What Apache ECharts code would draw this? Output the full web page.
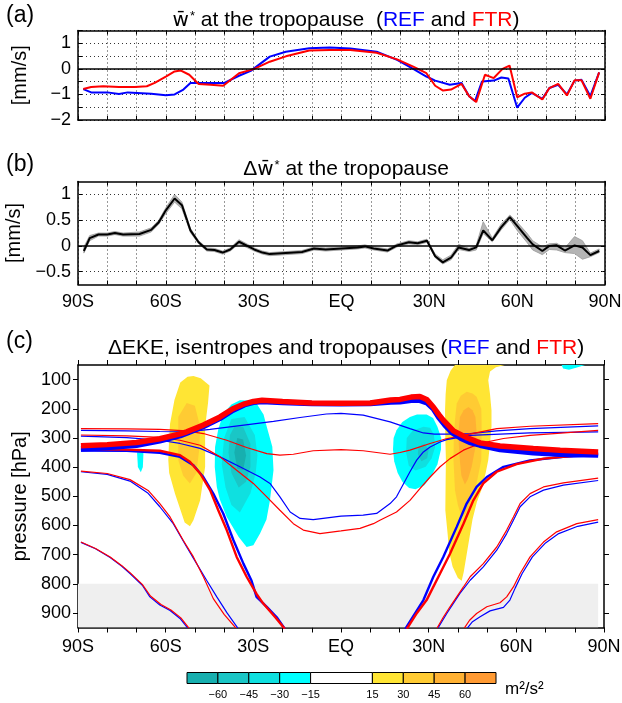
<!DOCTYPE html>
<html>
<head>
<meta charset="utf-8">
<title>w* at the tropopause and EKE</title>
<script src="https://cdn.jsdelivr.net/npm/echarts@6.0.0/dist/echarts.min.js"></script>
<style>
html, body { margin: 0; padding: 0; background: #fff; }
#chart { width: 622px; height: 703px; }
</style>
</head>
<body>
<div id="chart"></div>
<script>
// (a) residual vertical velocity at the tropopause [mm/s]
var latRef = [-88.2, -85.5, -80, -76, -73, -65, -60, -57, -54, -51.6, -46, -40, -35, -31, -24.5, -19, -11, -4, 3, 12, 19, 24.5, 29, 32, 37, 41, 43.6, 45.6, 48, 52, 54.6, 57, 60, 62.6, 65, 68.6, 71, 74, 77, 79.6, 82, 85, 88];
var wRef = [-0.79, -0.92, -0.92, -0.98, -0.92, -0.97, -1.03, -1.0, -0.81, -0.55, -0.55, -0.55, -0.27, -0.08, 0.48, 0.67, 0.81, 0.84, 0.8, 0.67, 0.35, 0, -0.3, -0.46, -0.62, -0.55, -1.07, -1.26, -0.49, -0.46, -0.34, -0.38, -1.52, -1.13, -0.94, -1.17, -0.75, -0.62, -1.0, -0.46, -0.43, -1.07, -0.14];
var latFtr = [-88.2, -85.5, -81.4, -76, -70.6, -66.5, -63.8, -60, -57, -55, -52, -48.8, -44.7, -40.4, -35, -29.8, -24.5, -19, -11, -4, 3, 12, 19, 24.5, 29, 32, 34.7, 37.4, 41, 43.6, 46, 49, 52, 55, 57.4, 60, 62.6, 65, 68.6, 71, 74, 77, 79.6, 82, 85, 88];
var wFtr = [-0.79, -0.71, -0.68, -0.71, -0.71, -0.68, -0.55, -0.3, -0.1, -0.06, -0.23, -0.59, -0.62, -0.66, -0.17, 0, 0.28, 0.49, 0.72, 0.74, 0.74, 0.63, 0.37, 0.09, -0.17, -0.66, -0.85, -0.81, -0.59, -1.07, -1.3, -0.23, -0.36, 0, 0.13, -1.11, -0.97, -0.92, -1.2, -0.75, -0.59, -1.04, -0.45, -0.45, -1.17, -0.14];

// (b) difference FTR - REF with its spread
var latDiff = [-88, -86, -83, -80, -77.4, -74.6, -69, -65, -62.4, -60, -57, -54.5, -51.6, -48.8, -46, -43.4, -40.6, -38, -35, -29.8, -27, -24.5, -19, -13.5, -9.4, -5.4, 0, 5.5, 8, 11, 15.7, 19, 23, 26, 29.2, 32, 34.6, 37.4, 40, 43.6, 46, 48.4, 51.5, 54.5, 57.5, 60, 63.3, 65.3, 68.6, 71, 73.5, 76.3, 79.6, 82.3, 85, 88];
var dW = [-0.1, 0.15, 0.22, 0.22, 0.25, 0.22, 0.23, 0.31, 0.46, 0.69, 0.92, 0.79, 0.3, 0.07, -0.07, -0.08, -0.13, -0.07, 0.08, -0.07, -0.13, -0.16, -0.14, -0.12, -0.05, -0.07, -0.05, -0.03, -0.01, -0.05, -0.09, 0.01, 0.07, 0.05, 0.1, -0.2, -0.32, -0.23, -0.03, -0.08, -0.03, 0.3, 0.11, 0.36, 0.56, 0.39, 0.16, 0.03, -0.1, 0, 0.01, -0.09, 0.01, -0.03, -0.18, -0.1];
var dWhi = [-0.02, 0.2, 0.25, 0.25, 0.28, 0.25, 0.27, 0.35, 0.5, 0.74, 1.0, 0.85, 0.34, 0.1, -0.04, -0.05, -0.1, -0.04, 0.12, -0.04, -0.1, -0.13, -0.11, -0.09, -0.02, -0.04, -0.02, 0.0, 0.02, -0.02, -0.06, 0.04, 0.1, 0.08, 0.13, -0.16, -0.27, -0.18, 0.03, -0.05, 0.01, 0.47, 0.15, 0.42, 0.6, 0.46, 0.25, 0.1, -0.02, 0.04, 0.05, -0.04, 0.18, 0.1, -0.14, -0.06];
var dWlo = [-0.14, 0.1, 0.19, 0.19, 0.22, 0.19, 0.19, 0.27, 0.42, 0.63, 0.85, 0.72, 0.26, 0.04, -0.1, -0.11, -0.16, -0.1, 0.04, -0.1, -0.16, -0.19, -0.17, -0.15, -0.08, -0.1, -0.08, -0.06, -0.04, -0.08, -0.12, -0.02, 0.04, 0.02, 0.07, -0.23, -0.35, -0.27, -0.07, -0.11, -0.08, 0.24, 0.08, 0.31, 0.51, 0.3, 0.07, -0.08, -0.17, -0.07, -0.08, -0.13, -0.15, -0.26, -0.21, -0.13];

// (c) tropopauses [lat, hPa]
var tropRef = [[-89, 338], [-80, 333], [-70, 325], [-62, 310], [-55, 292], [-52.8, 284], [-47.1, 261], [-41.4, 233], [-37, 205], [-33, 186], [-30, 178], [-27, 175], [-20, 179], [-10, 182], [0, 183], [10, 182], [17, 177], [20.2, 176], [24, 171], [27, 171], [29.5, 180], [31.6, 200], [33.5, 230], [35.5, 255], [38, 282], [41, 301], [44, 315], [47.6, 325], [54.4, 340], [65.8, 351], [75, 356], [88, 359]];
var tropFtr = [[-89, 327], [-80, 323], [-70, 316], [-62, 303], [-55, 286], [-52.8, 279], [-47.1, 256], [-41.4, 228], [-37, 200], [-33, 183], [-30, 175], [-27, 171], [-20, 175], [-10, 180], [0, 181], [10, 180], [17, 170], [20.2, 168], [24, 160], [27, 158], [29.3, 168], [31.6, 194], [33.5, 220], [35, 239], [38.5, 276], [43, 299], [47.6, 317], [54.4, 328], [65.8, 336], [75, 342], [88, 348]];

// (c) isentropes [lat, hPa]
var upperRef = [[-89, 274], [-73.3, 276], [-62, 278], [-52.8, 279], [-44.8, 271], [-34.6, 258], [-23.1, 243], [-14, 230], [-5, 218], [0, 216], [7.6, 222], [16.8, 245], [23.6, 268], [28.2, 283], [32, 287], [36.2, 287], [44.2, 285], [53.3, 276], [64.7, 268], [88, 259]];
var upperFtr = [[-89, 268], [-73.3, 269], [-62, 271], [-52.8, 276], [-47.1, 285], [-39.1, 308], [-32.3, 333], [-25.4, 354], [-20.9, 359], [-16.3, 356], [-9.5, 344], [0, 340], [7.6, 344], [16.8, 356], [20.2, 350], [23.6, 342], [30.5, 319], [36, 303], [41.9, 291], [53.3, 268], [64.7, 260], [88, 251]];
var bowlRef = [[-89, 294], [-73.3, 299], [-62, 308], [-55.1, 319], [-48.2, 336], [-41.4, 365], [-34.6, 399], [-27.7, 434], [-24.3, 456], [-20.9, 502], [-17.4, 554], [-14, 576], [-9.5, 580], [0, 568], [7.6, 565], [12.2, 559], [16.8, 525], [19, 502], [20.8, 468], [23.6, 416], [25.9, 376], [28.2, 348], [30.5, 331], [33.9, 314], [36.2, 306], [44.2, 291], [64.7, 283], [88, 279]];
var bowlFtr = [[-89, 290], [-73.3, 293], [-62, 298], [-55.1, 308], [-48.2, 325], [-41.4, 365], [-35.7, 411], [-30, 456], [-25.4, 502], [-20.9, 548], [-16.3, 594], [-12.9, 616], [-7.2, 628], [0, 619], [6.5, 610], [11.1, 594], [13.3, 582], [19, 554], [23.6, 514], [27, 474], [30.5, 434], [33.9, 399], [37.3, 371], [41.9, 342], [47.6, 319], [55.6, 302], [64.7, 291], [88, 274]];
var steepSRef = [[-89, 343], [-73.3, 344], [-62, 351], [-55.1, 365], [-50.5, 394], [-47.1, 434], [-43.7, 491], [-40.3, 559], [-36.8, 651], [-33.4, 731], [-30.6, 790], [-28.9, 845], [-25.4, 879], [-22, 915], [-19.2, 955]];
var steepSFtr = [[-89, 338], [-73.3, 340], [-62, 344], [-55.1, 359], [-51.7, 382], [-48.2, 422], [-44.8, 479], [-42, 548], [-39.1, 616], [-35.7, 708], [-32.3, 776], [-28.9, 835], [-26.6, 868], [-22.5, 915], [-19.2, 955]];
var steepNRef = [[22, 955], [28.2, 856], [31.6, 776], [35, 708], [39.6, 605], [43, 525], [46.4, 468], [49.9, 434], [55.6, 399], [64.7, 377], [76.1, 365], [88, 359]];
var steepNFtr = [[22.5, 955], [26, 900], [29.3, 856], [33.9, 765], [37.3, 697], [41.9, 594], [45.3, 514], [48.7, 456], [53.3, 416], [60.1, 390], [69.3, 371], [88, 354]];
var midSRef = [[-89, 416], [-80, 425], [-72.2, 448], [-66, 490], [-62, 536], [-57.4, 594], [-52.8, 674], [-49.4, 731], [-46, 788], [-42.5, 845], [-39, 900], [-35.1, 955]];
var midSFtr = [[-89, 414], [-80, 422], [-72.2, 443], [-66, 480], [-62, 525], [-58.5, 571], [-54, 651], [-50.5, 708], [-47.1, 776], [-43.7, 851], [-40, 905], [-35.7, 955]];
var midNRef = [[33, 955], [36.2, 902], [40.7, 833], [44.2, 788], [48.7, 742], [53.3, 685], [56.7, 628], [59, 582], [61.3, 536], [64.7, 502], [69.3, 479], [76.1, 462], [88, 446]];
var midNFtr = [[32.7, 955], [35, 915], [37.3, 879], [41.9, 811], [44.2, 776], [48.7, 731], [53.3, 674], [56.7, 616], [59, 571], [61.3, 525], [64.7, 491], [69.3, 468], [76.1, 454], [88, 438]];
var lowSRef = [[-89, 658], [-84, 680], [-79, 710], [-75, 740], [-72.2, 765], [-68, 805], [-65.4, 845], [-62, 873], [-58.5, 892], [-55.1, 919], [-52.2, 955]];
var lowSFtr = [[-89, 657], [-84, 679], [-79, 708], [-75, 738], [-72.2, 762], [-68, 802], [-65.2, 842], [-61.6, 871], [-58.2, 890], [-54.8, 917], [-51.8, 955]];
var lowNRef = [[43, 955], [45, 930], [47.6, 913], [51, 893], [55.6, 881], [57.8, 856], [59.6, 815], [62, 765], [65.5, 708], [70, 660], [74.5, 628], [81, 603], [88, 589]];
var lowNFtr = [[42, 955], [44, 925], [46.4, 902], [49.9, 879], [54.4, 865], [56.7, 845], [59, 811], [61.3, 765], [64.7, 708], [69.3, 657], [73.8, 622], [80.7, 594], [88, 580]];

// (c) Delta EKE filled contours, outlines as [lat, hPa]
var ekeSH15 = [[-50.5, 88], [-48, 95], [-45, 120], [-45.5, 180], [-46.5, 262], [-46.5, 400], [-48.2, 514], [-50.5, 582], [-51.7, 603], [-53.5, 590], [-56.8, 491], [-58.8, 420], [-59.1, 376], [-58.8, 300], [-58.5, 251], [-57, 170], [-55, 110], [-52.5, 90]];
var ekeSH30 = [[-52.8, 180], [-50, 190], [-48.2, 262], [-48.5, 340], [-49.5, 420], [-51.7, 456], [-54, 430], [-55.7, 376], [-55.7, 300], [-55.7, 228]];
var ekeSHm15 = [[-34.6, 171], [-31, 172], [-28.9, 182], [-26.5, 220], [-25.4, 262], [-23.5, 330], [-23.1, 411], [-24.3, 514], [-25.5, 580], [-27.7, 628], [-30, 668], [-32.3, 674], [-35, 640], [-39.1, 571], [-41.5, 510], [-42.5, 468], [-43.2, 400], [-43.1, 331], [-42, 270], [-40.3, 217], [-37.5, 185]];
var ekeSHm30 = [[-37.5, 235], [-33, 228], [-29.5, 290], [-28.6, 360], [-29.2, 420], [-31, 490], [-34.6, 556], [-37.5, 530], [-39.5, 470], [-40.8, 390], [-40, 300]];
var ekeSHm45 = [[-36.5, 262], [-33.5, 262], [-31, 320], [-31, 400], [-32.5, 450], [-35, 470], [-37.5, 420], [-38.5, 350], [-38, 290]];
var ekeSHm60 = [[-35.5, 300], [-33.5, 305], [-32.5, 360], [-33.5, 410], [-35.5, 405], [-36.5, 350]];
var ekeSHdrip = [[-69.8, 350], [-67.6, 350], [-67.8, 400], [-68.5, 418], [-69.5, 400]];
var ekeNH15 = [[36.2, 102], [37.5, 70], [39, 50], [56, 50], [53, 58], [51, 72], [50.4, 102], [51, 150], [51.5, 205], [51.5, 262], [51, 319], [50.4, 376], [49.5, 420], [48, 479], [46.5, 520], [45, 580], [44, 640], [43, 700], [42, 760], [41.3, 790], [40, 780], [38.2, 742], [37, 690], [36.5, 630], [35.7, 548], [35.8, 450], [35.9, 376], [35.7, 300], [35.6, 205], [35.8, 150]];
var ekeNH30 = [[39.6, 182], [41, 155], [43, 142], [45, 148], [46.4, 159], [48, 200], [48.1, 239], [48.1, 300], [48, 376], [46.4, 456], [44.5, 520], [42.5, 560], [41.3, 571], [40, 530], [39, 479], [38.5, 376], [38.6, 300], [39, 239]];
var ekeNH45 = [[40.7, 228], [42, 205], [43.6, 194], [45, 205], [46, 228], [46.4, 280], [46, 331], [44.7, 400], [43.5, 440], [42.4, 460], [41.2, 430], [40.7, 380], [40.3, 320], [40.3, 270]];
var ekeNHm15 = [[18, 300], [19, 274], [21, 245], [23.6, 228], [26, 220], [29.3, 220], [31.5, 232], [33, 262], [34.3, 300], [34.2, 340], [33, 390], [31, 430], [28.5, 462], [25.5, 476], [23.3, 472], [21, 450], [19.4, 420], [18.2, 380], [17.8, 340]];
var ekeNHm30 = [[22.5, 300], [24.5, 275], [28.2, 262], [30.5, 265], [31.8, 290], [32.2, 331], [31, 370], [29, 399], [25.5, 412], [23.2, 395], [22.3, 350]];
var ekeNHm45 = [[26.5, 330], [28.5, 320], [30, 340], [29.5, 370], [27.5, 380], [26.3, 355]];
var ekeArcticm15 = [[75.5, 50], [83.5, 50], [81, 58], [78, 66], [76, 62]];
var belowBox = [-90, 88, 800, 950];

// colour bar
var cbEdges = [-75, -60, -45, -30, -15, 15, 30, 45, 60, 75];
var cbColors = ['#17afaf', '#1ac6c6', '#0fe0e0', '#00ffff', '#ffffff', '#ffe534', '#ffcb33', '#ffb133', '#ff9a33'];

var ekeContours = [
  [15, ekeSH15], [30, ekeSH30], [-15, ekeSHm15], [-30, ekeSHm30], [-45, ekeSHm45], [-60, ekeSHm60], [-15, ekeSHdrip],
  [15, ekeNH15], [30, ekeNH30], [45, ekeNH45], [-15, ekeNHm15], [-30, ekeNHm30], [-45, ekeNHm45], [-15, ekeArcticm15]
];

var FONT = '"Liberation Sans", Arial, Helvetica, sans-serif';
var BLUE = '#0000ff', RED = '#ff0000';

function pairs(xs, ys) { return xs.map(function (x, i) { return [x, ys[i]]; }); }
function minus(v) { return String(v).replace('-', '\u2212'); }
function latLabel(v) {
  if (v % 30 !== 0) return '';
  if (v === 0) return 'EQ';
  return v < 0 ? (-v) + 'S' : v + 'N';
}
function levelColor(lv) {
  for (var i = 0; i < cbEdges.length - 1; i++) {
    if ((lv > 0 && cbEdges[i] === lv) || (lv < 0 && cbEdges[i + 1] === lv)) return cbColors[i];
  }
  return '#fff';
}
function polySeries(pts, fill, gi, z) {
  return {
    type: 'custom', xAxisIndex: gi, yAxisIndex: gi, z: z, silent: true, clip: true,
    data: [pts[0]],
    renderItem: function (params, api) {
      return { type: 'polygon', shape: { points: pts.map(function (p) { return api.coord(p); }) }, style: { fill: fill } };
    }
  };
}
function lineSeries(data, color, width, gi, z) {
  return { type: 'line', xAxisIndex: gi, yAxisIndex: gi, data: data, showSymbol: false, symbol: 'none', z: z,
    lineStyle: { color: color, width: width }, silent: true, animation: false };
}

var tickFont = { fontFamily: FONT, fontSize: 18, color: '#000' };
var frame = { show: true, onZero: false, lineStyle: { color: '#000', width: 1.5 } };
var dotted = { show: true, lineStyle: { color: '#333', width: 1, type: [1, 3] } };

function latAxis(gi, pos, labels, inside, grid) {
  return {
    type: 'value', gridIndex: gi, position: pos, min: -90, max: 90, interval: 10,
    axisLine: frame,
    axisTick: { show: true, inside: inside, length: inside ? 4 : 5, lineStyle: { color: '#000', width: 1 } },
    axisLabel: labels ? Object.assign({ show: true, margin: labels, formatter: latLabel, showMinLabel: true, showMaxLabel: true }, tickFont) : { show: false },
    splitLine: grid ? dotted : { show: false }
  };
}

var chart = echarts.init(document.getElementById('chart'), null, { renderer: 'canvas' });

var series = [];
// (a)
series.push(Object.assign(lineSeries(pairs(latRef, wRef), BLUE, 2, 0, 3), {
  markLine: { silent: true, symbol: 'none', label: { show: false }, animation: false,
    lineStyle: { color: '#000', width: 1.5, type: 'solid' }, data: [{ yAxis: 0 }] }
}));
series.push(lineSeries(pairs(latFtr, wFtr), RED, 2, 0, 4));
// (b)
var band = latDiff.map(function (x, i) { return [x, dWhi[i]]; })
  .concat(latDiff.map(function (x, i) { return [x, dWlo[i]]; }).reverse());
series.push({
  type: 'custom', xAxisIndex: 1, yAxisIndex: 1, z: 2, silent: true, data: [band[0]],
  renderItem: function (params, api) {
    return { type: 'polygon', shape: { points: band.map(function (p) { return api.coord(p); }) },
      style: { fill: '#b4b4b4', stroke: '#999', lineWidth: 0.8 } };
  }
});
series.push(Object.assign(lineSeries(pairs(latDiff, dW), '#000', 2, 1, 4), {
  markLine: { silent: true, symbol: 'none', label: { show: false }, animation: false,
    data: [
      { yAxis: 1, lineStyle: { color: '#333', width: 1, type: [1, 3] } },
      { yAxis: 0.5, lineStyle: { color: '#333', width: 1, type: [1, 3] } },
      { yAxis: -0.5, lineStyle: { color: '#333', width: 1, type: [1, 3] } },
      { yAxis: 0, lineStyle: { color: '#000', width: 1.5, type: 'solid' } }
    ] }
}));
// (c) fills
ekeContours.forEach(function (c) { series.push(polySeries(c[1], levelColor(c[0]), 2, 1)); });
series.push(polySeries([[belowBox[0], belowBox[2]], [belowBox[1], belowBox[2]], [belowBox[1], belowBox[3]], [belowBox[0], belowBox[3]]], '#efefef', 2, 1));
// (c) isentropes
[[upperRef, upperFtr], [bowlRef, bowlFtr], [midSRef, midSFtr], [midNRef, midNFtr], [lowSRef, lowSFtr], [lowNRef, lowNFtr]].forEach(function (p) {
  series.push(lineSeries(p[0], BLUE, 1.2, 2, 3));
  series.push(lineSeries(p[1], RED, 1.2, 2, 3));
});
[[steepSRef, steepSFtr], [steepNRef, steepNFtr]].forEach(function (p) {
  series.push(lineSeries(p[0], BLUE, 2.4, 2, 4));
  series.push(lineSeries(p[1], RED, 2.4, 2, 4));
});
series.push(lineSeries(tropRef, BLUE, 5.5, 2, 5));
series.push(lineSeries(tropFtr, RED, 5.5, 2, 6));
// colour bar
var cbBands = cbColors.map(function (c, i) { return [cbEdges[i], cbEdges[i + 1], i]; });
series.push({
  type: 'custom', xAxisIndex: 3, yAxisIndex: 3, silent: true, data: cbBands,
  renderItem: function (params, api) {
    var a = api.coord([api.value(0), 1]), b = api.coord([api.value(1), 0]);
    return { type: 'rect', shape: { x: a[0], y: a[1], width: b[0] - a[0], height: b[1] - a[1] },
      style: { fill: cbColors[api.value(2)], stroke: '#000', lineWidth: 1 } };
  }
});

var titleStyle = function () {
  return {
    fontFamily: FONT, fontSize: 21, fontWeight: 'normal', color: '#000',
    rich: {
      w: { fontFamily: '"DejaVu Sans", sans-serif', fontSize: 20, color: '#000' },
      s: { fontFamily: FONT, fontSize: 13, color: '#000', verticalAlign: 'top', padding: [0, 0, 6, 1] },
      b: { fontFamily: FONT, fontSize: 21, color: BLUE },
      r: { fontFamily: FONT, fontSize: 21, color: RED }
    }
  };
};

var option = {
  animation: false,
  backgroundColor: '#fff',
  textStyle: { fontFamily: FONT },
  title: [
    { text: '{w|w\u0304}{s|*} at the tropopause  ({b|REF} and {r|FTR})', left: 341, top: 5, textAlign: 'center', textStyle: titleStyle() },
    { text: '\u0394{w|w\u0304}{s|*} at the tropopause', left: 341, top: 154, textAlign: 'center', textStyle: titleStyle() },
    { text: '\u0394EKE, isentropes and tropopauses ({b|REF} and {r|FTR})', left: 341, top: 333, textAlign: 'center', textStyle: titleStyle() }
  ],
  graphic: [
    { type: 'text', left: 6, top: 4, style: { text: '(a)', font: '23px ' + FONT, fill: '#000' } },
    { type: 'text', left: 6, top: 153, style: { text: '(b)', font: '23px ' + FONT, fill: '#000' } },
    { type: 'text', left: 6, top: 330, style: { text: '(c)', font: '23px ' + FONT, fill: '#000' } },
    { type: 'text', left: 505, top: 681, style: { text: 'm\u00b2/s\u00b2', font: '17px ' + FONT, fill: '#000' } }
  ],
  grid: [
    { left: 78, top: 30.5, width: 527, height: 89.5, containLabel: false, outerBoundsMode: 'none' },
    { left: 78, top: 181.5, width: 527, height: 103, containLabel: false, outerBoundsMode: 'none' },
    { left: 78, top: 365, width: 526, height: 262.5, containLabel: false, outerBoundsMode: 'none' },
    { left: 187, top: 672.5, width: 309, height: 11, containLabel: false, outerBoundsMode: 'none' }
  ],
  xAxis: [
    latAxis(0, 'bottom', 0, true, true),
    latAxis(1, 'bottom', 9, true, true),
    latAxis(2, 'bottom', 11, false, false),
    {
      type: 'value', gridIndex: 3, min: -75, max: 75, interval: 15,
      axisLine: { show: false }, axisTick: { show: false }, splitLine: { show: false },
      axisLabel: { show: true, margin: 6, fontFamily: FONT, fontSize: 11, color: '#000',
        formatter: function (v) { return (v === 0 || Math.abs(v) === 75) ? '' : minus(v); } }
    },
    latAxis(0, 'top', 0, true, false),
    latAxis(1, 'top', 0, true, false),
    latAxis(2, 'top', 0, false, false)
  ],
  yAxis: [
    {
      type: 'value', gridIndex: 0, position: 'left', min: -2, max: 1.5, interval: 0.5,
      name: '[mm/s]', nameLocation: 'middle', nameGap: 48, nameTextStyle: { fontFamily: FONT, fontSize: 20, color: '#000' },
      axisLine: frame, axisTick: { show: true, inside: true, length: 4, lineStyle: { color: '#000' } },
      axisLabel: Object.assign({ margin: 7, formatter: function (v) { return v % 1 === 0 ? minus(v) : ''; } }, tickFont),
      splitLine: dotted
    },
    {
      type: 'value', gridIndex: 1, position: 'left', min: -0.75, max: 1.25, interval: 0.25,
      name: '[mm/s]', nameLocation: 'middle', nameGap: 48, nameTextStyle: { fontFamily: FONT, fontSize: 20, color: '#000' },
      axisLine: frame,
      axisTick: { show: true, inside: true, length: 4, lineStyle: { color: '#000' }, customValues: [-0.5, 0, 0.5, 1] },
      axisLabel: Object.assign({ margin: 7, customValues: [-0.5, 0, 0.5, 1],
        formatter: function (v) { return Math.abs(v * 2 - Math.round(v * 2)) < 1e-6 ? minus(v) : ''; } }, tickFont),
      splitLine: { show: false }
    },
    {
      type: 'value', gridIndex: 2, position: 'left', min: 50, max: 950, interval: 50, inverse: true,
      name: 'pressure [hPa]', nameLocation: 'middle', nameGap: 48, nameTextStyle: { fontFamily: FONT, fontSize: 20, color: '#000' },
      axisLine: frame,
      axisTick: { show: true, inside: false, length: 5, lineStyle: { color: '#000' }, customValues: [100, 200, 300, 400, 500, 600, 700, 800, 900] },
      axisLabel: Object.assign({ margin: 7, customValues: [100, 200, 300, 400, 500, 600, 700, 800, 900],
        formatter: function (v) { return v % 100 === 0 ? String(v) : ''; } }, tickFont),
      splitLine: { show: false }
    },
    { type: 'value', gridIndex: 3, min: 0, max: 1, show: false },
    {
      type: 'value', gridIndex: 0, position: 'right', min: -2, max: 1.5, interval: 0.5,
      axisLine: frame, axisTick: { show: true, inside: true, length: 4, lineStyle: { color: '#000' }, customValues: [-2, -1, 0, 1] },
      axisLabel: { show: false }, splitLine: { show: false }
    },
    {
      type: 'value', gridIndex: 1, position: 'right', min: -0.75, max: 1.25, interval: 0.25,
      axisLine: frame, axisTick: { show: true, inside: true, length: 4, lineStyle: { color: '#000' }, customValues: [-0.5, 0, 0.5, 1] },
      axisLabel: { show: false }, splitLine: { show: false }
    },
    {
      type: 'value', gridIndex: 2, position: 'right', min: 50, max: 950, interval: 50, inverse: true,
      axisLine: frame, axisTick: { show: true, inside: false, length: 5, lineStyle: { color: '#000' }, customValues: [100, 200, 300, 400, 500, 600, 700, 800, 900] },
      axisLabel: { show: false }, splitLine: { show: false }
    }
  ],
  series: series
};

option && chart.setOption(option);
</script>
</body>
</html>
